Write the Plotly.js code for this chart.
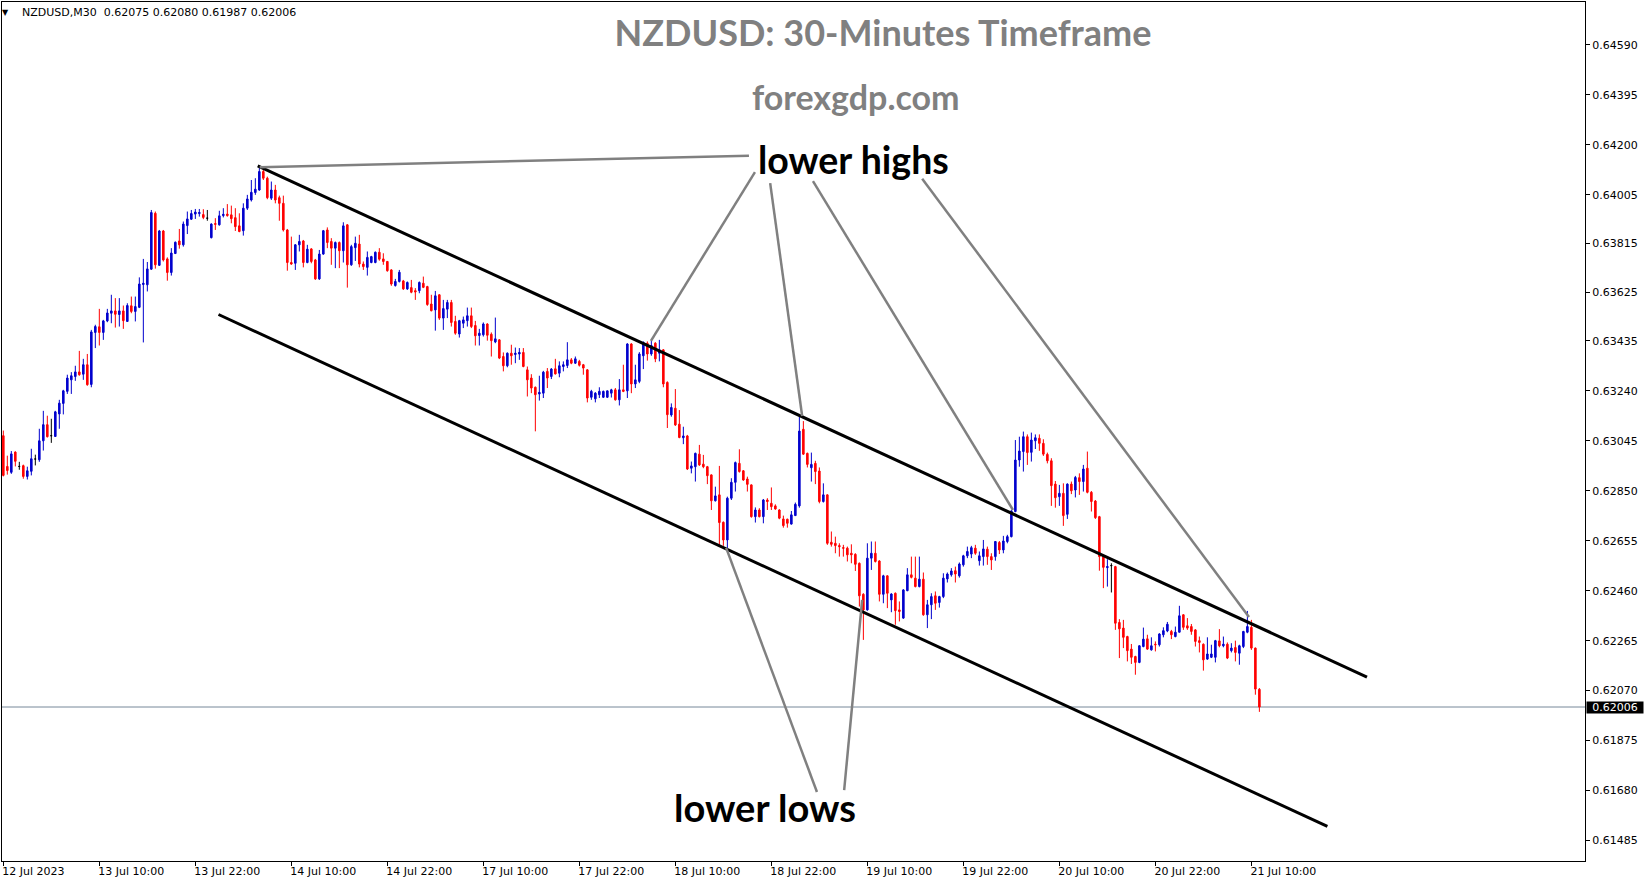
<!DOCTYPE html>
<html>
<head>
<meta charset="utf-8">
<script src="https://cdn.plot.ly/plotly-3.0.1.min.js"></script>
<style>
html,body{margin:0;padding:0;background:#fff;overflow:hidden}
#chart{width:1649px;height:884px}
</style>
</head>
<body>
<div id="chart"></div>
<script>
// NZDUSD M30 bars (index 0 = first visible bar)
const openP = [
.63065,.62945,.62922,.63001,.62945,.62948,.62906,.62926,.62974,.62971,
.63045,.63108,.63065,.63062,.63150,.63191,.63238,.63283,.63296,.63314,
.63305,.63342,.63265,.63468,.63490,.63468,.63513,.63543,.63552,.63538,
.63552,.63511,.63572,.63550,.63566,.63655,.63654,.63715,.63933,.63730,
.63864,.63755,.63702,.63776,.63825,.63810,.63885,.63910,.63930,.63932,
.63928,.63914,.63838,.63893,.63888,.63924,.63930,.63927,.63916,.63884,
.63865,.63953,.63985,.64014,.64024,.64096,.64070,.63992,.64024,.63994,
.63972,.63868,.63741,.63738,.63810,.63825,.63741,.63794,.63751,.63677,
.63774,.63868,.63823,.63797,.63819,.63787,.63888,.63732,.63799,.63813,
.63735,.63722,.63741,.63741,.63781,.63755,.63745,.63712,.63651,.63667,
.63669,.63638,.63643,.63631,.63631,.63660,.63647,.63579,.63556,.63615,
.63524,.63559,.63585,.63511,.63462,.63504,.63514,.63533,.63495,.63456,
.63459,.63501,.63461,.63431,.63439,.63374,.63338,.63387,.63382,.63384,
.63390,.63322,.63290,.63254,.63228,.63231,.63316,.63296,.63326,.63309,
.63335,.63339,.63361,.63348,.63355,.63342,.63322,.63215,.63209,.63225,
.63215,.63215,.63231,.63244,.63205,.63244,.63240,.63423,.63267,.63277,
.63377,.63426,.63384,.63426,.63387,.63400,.63273,.63146,.63172,.63110,
.63057,.63064,.62938,.62944,.62993,.62954,.62944,.62912,.62811,.62834,
.62727,.62658,.62821,.62883,.62957,.62928,.62896,.62873,.62749,.62775,
.62749,.62814,.62801,.62791,.62775,.62740,.62739,.62720,.62753,.62791,
.63090,.62996,.62940,.62957,.62927,.62808,.62834,.62649,.62645,.62636,
.62628,.62626,.62606,.62602,.62567,.62446,.62385,.62587,.62606,.62576,
.62446,.62518,.62424,.62450,.62385,.62353,.62460,.62522,.62509,.62476,
.62505,.62366,.62405,.62440,.62414,.62437,.62506,.62522,.62538,.62518,
.62561,.62596,.62603,.62626,.62577,.62593,.62622,.62593,.62593,.62648,
.62619,.62652,.62671,.62769,.62970,.63003,.63061,.63000,.63045,.63055,
.63035,.62992,.62967,.62876,.62827,.62840,.62758,.62876,.62853,.62901,
.62886,.62938,.62844,.62810,.62749,.62593,.62550,.62558,.62554,.62336,
.62314,.62281,.62232,.62203,.62180,.62242,.62272,.62229,.62251,.62249,
.62288,.62303,.62301,.62281,.62298,.62366,.62323,.62320,.62307,.62265,
.62251,.62193,.62200,.62200,.62264,.62245,.62251,.62226,.62238,.62216,
.62242,.62298,.62317,.62236,.62075];
const highP = [
.63085,.62987,.63005,.63004,.62963,.62952,.62944,.63014,.62991,.63092,
.63162,.63143,.63131,.63162,.63205,.63244,.63303,.63313,.63338,.63396,
.63365,.63384,.63478,.63498,.63560,.63517,.63560,.63615,.63602,.63602,
.63573,.63582,.63608,.63608,.63683,.63755,.63743,.63946,.63940,.63868,
.63868,.63761,.63797,.63823,.63872,.63901,.63940,.63946,.63950,.63950,
.63949,.63946,.63894,.63914,.63943,.63953,.63969,.63963,.63953,.63933,
.63972,.64005,.64063,.64070,.64118,.64112,.64076,.64057,.64044,.64002,
.64002,.63872,.63842,.63813,.63849,.63829,.63810,.63797,.63755,.63790,
.63868,.63878,.63836,.63823,.63823,.63898,.63891,.63810,.63842,.63849,
.63745,.63784,.63767,.63784,.63797,.63777,.63747,.63715,.63677,.63712,
.63673,.63667,.63673,.63641,.63667,.63686,.63650,.63615,.63630,.63617,
.63595,.63595,.63595,.63533,.63517,.63530,.63565,.63565,.63513,.63482,
.63507,.63504,.63468,.63526,.63442,.63390,.63390,.63420,.63409,.63407,
.63407,.63335,.63305,.63257,.63299,.63318,.63329,.63329,.63365,.63355,
.63355,.63430,.63368,.63374,.63361,.63345,.63325,.63244,.63235,.63254,
.63241,.63241,.63248,.63251,.63286,.63342,.63426,.63426,.63342,.63391,
.63433,.63433,.63436,.63430,.63439,.63403,.63277,.63191,.63247,.63165,
.63100,.63068,.62964,.62999,.63029,.62990,.62947,.62914,.62866,.62947,
.62730,.62827,.62899,.62964,.63012,.62931,.62905,.62875,.62785,.62782,
.62818,.62821,.62863,.62797,.62778,.62753,.62741,.62771,.62804,.63139,
.63122,.62999,.62999,.62967,.62941,.62879,.62836,.62691,.62671,.62645,
.62639,.62632,.62641,.62606,.62570,.62450,.62645,.62652,.62652,.62579,
.62522,.62520,.62450,.62453,.62418,.62466,.62548,.62593,.62593,.62593,
.62531,.62424,.62450,.62457,.62440,.62528,.62531,.62548,.62554,.62570,
.62600,.62632,.62635,.62639,.62613,.62658,.62632,.62606,.62654,.62654,
.62674,.62678,.62775,.63048,.63061,.63081,.63070,.63077,.63070,.63070,
.63051,.62999,.62977,.62888,.62873,.62879,.62879,.62886,.62908,.62918,
.62951,.63003,.62849,.62814,.62752,.62596,.62583,.62567,.62557,.62349,
.62346,.62284,.62252,.62206,.62247,.62316,.62288,.62278,.62262,.62294,
.62317,.62338,.62307,.62320,.62401,.62368,.62353,.62330,.62310,.62281,
.62254,.62278,.62249,.62268,.62310,.62281,.62258,.62255,.62265,.62249,
.62303,.62381,.62346,.62238,.62080];
const lowP = [
.62906,.62913,.62916,.62945,.62932,.62897,.62894,.62910,.62949,.62963,
.63007,.63058,.63037,.63060,.63092,.63148,.63228,.63228,.63279,.63299,
.63283,.63260,.63254,.63407,.63417,.63439,.63508,.63504,.63487,.63491,
.63482,.63509,.63543,.63511,.63563,.63429,.63628,.63712,.63717,.63728,
.63745,.63670,.63690,.63774,.63795,.63803,.63852,.63907,.63911,.63920,
.63910,.63904,.63835,.63868,.63885,.63917,.63920,.63894,.63864,.63859,
.63846,.63946,.63979,.64005,.64021,.64063,.63988,.63985,.63972,.63904,
.63862,.63709,.63732,.63712,.63784,.63722,.63738,.63738,.63673,.63673,
.63771,.63797,.63732,.63719,.63719,.63741,.63643,.63728,.63747,.63722,
.63712,.63690,.63738,.63738,.63748,.63732,.63705,.63650,.63647,.63663,
.63634,.63634,.63621,.63595,.63621,.63641,.63572,.63550,.63475,.63517,
.63478,.63524,.63491,.63459,.63448,.63485,.63491,.63485,.63417,.63417,
.63452,.63436,.63374,.63426,.63364,.63316,.63332,.63342,.63348,.63361,
.63332,.63218,.63231,.63082,.63202,.63212,.63251,.63286,.63304,.63293,
.63316,.63329,.63344,.63345,.63335,.63303,.63195,.63205,.63195,.63212,
.63212,.63212,.63214,.63202,.63183,.63235,.63212,.63231,.63251,.63270,
.63325,.63358,.63377,.63352,.63355,.63254,.63095,.63139,.63103,.63055,
.63032,.62931,.62918,.62886,.62947,.62938,.62876,.62775,.62808,.62639,
.62635,.62616,.62814,.62847,.62921,.62889,.62847,.62745,.62726,.62746,
.62723,.62775,.62775,.62776,.62739,.62706,.62706,.62718,.62752,.62784,
.62990,.62941,.62886,.62876,.62801,.62804,.62639,.62632,.62606,.62593,
.62593,.62574,.62567,.62537,.62398,.62268,.62382,.62541,.62570,.62418,
.62411,.62392,.62376,.62327,.62340,.62350,.62458,.62508,.62473,.62473,
.62362,.62314,.62349,.62385,.62394,.62431,.62492,.62515,.62492,.62511,
.62554,.62587,.62587,.62600,.62558,.62558,.62561,.62541,.62577,.62603,
.62606,.62645,.62668,.62766,.62944,.62925,.62951,.62964,.63013,.63006,
.62986,.62957,.62791,.62784,.62791,.62713,.62740,.62837,.62824,.62834,
.62847,.62840,.62769,.62740,.62538,.62470,.62476,.62453,.62307,.62197,
.62236,.62184,.62174,.62132,.62177,.62239,.62229,.62226,.62223,.62242,
.62278,.62298,.62271,.62278,.62297,.62307,.62307,.62288,.62242,.62219,
.62148,.62190,.62197,.62180,.62239,.62239,.62193,.62219,.62184,.62171,
.62236,.62294,.62229,.62054,.61987];
const closeP = [
.62910,.62929,.62994,.62965,.62945,.62906,.62928,.62975,.62974,.63045,
.63108,.63061,.63065,.63158,.63192,.63240,.63290,.63299,.63314,.63303,
.63342,.63264,.63470,.63491,.63468,.63513,.63544,.63552,.63539,.63552,
.63514,.63573,.63550,.63569,.63657,.63660,.63716,.63936,.63732,.63864,
.63751,.63702,.63778,.63820,.63810,.63891,.63911,.63932,.63938,.63936,
.63917,.63914,.63891,.63890,.63923,.63929,.63924,.63912,.63881,.63862,
.63953,.63989,.64015,.64027,.64096,.64070,.63994,.64024,.63985,.63972,
.63868,.63741,.63735,.63810,.63823,.63741,.63793,.63745,.63677,.63774,
.63865,.63819,.63797,.63819,.63787,.63884,.63732,.63803,.63816,.63735,
.63725,.63761,.63764,.63781,.63754,.63745,.63709,.63657,.63667,.63703,
.63638,.63663,.63625,.63626,.63663,.63644,.63577,.63553,.63611,.63524,
.63561,.63585,.63507,.63465,.63514,.63517,.63533,.63491,.63455,.63465,
.63501,.63457,.63436,.63443,.63368,.63338,.63387,.63377,.63387,.63390,
.63335,.63283,.63251,.63225,.63234,.63313,.63290,.63325,.63306,.63338,
.63342,.63361,.63348,.63365,.63340,.63329,.63212,.63238,.63231,.63238,
.63238,.63240,.63244,.63205,.63244,.63238,.63423,.63267,.63283,.63384,
.63429,.63384,.63417,.63365,.63400,.63267,.63147,.63175,.63107,.63058,
.63064,.62935,.62947,.62996,.62951,.62944,.62909,.62811,.62830,.62726,
.62658,.62821,.62883,.62960,.62925,.62892,.62875,.62749,.62775,.62749,
.62814,.62808,.62788,.62779,.62743,.62714,.62723,.62756,.62797,.63083,
.62993,.62953,.62953,.62925,.62808,.62834,.62645,.62641,.62636,.62632,
.62626,.62600,.62600,.62563,.62440,.62385,.62587,.62606,.62574,.62446,
.62518,.62450,.62447,.62382,.62379,.62463,.62522,.62512,.62476,.62505,
.62366,.62405,.62437,.62411,.62437,.62509,.62525,.62537,.62525,.62564,
.62596,.62613,.62628,.62606,.62596,.62623,.62593,.62580,.62652,.62619,
.62654,.62671,.62771,.62970,.63005,.63061,.62999,.63048,.63057,.63035,
.62993,.62967,.62870,.62823,.62840,.62753,.62876,.62850,.62902,.62886,
.62935,.62844,.62808,.62745,.62593,.62551,.62554,.62558,.62333,.62311,
.62278,.62226,.62200,.62180,.62245,.62271,.62232,.62245,.62249,.62291,
.62304,.62329,.62288,.62298,.62362,.62317,.62314,.62301,.62262,.62258,
.62190,.62213,.62213,.62265,.62245,.62251,.62197,.62236,.62219,.62245,
.62301,.62320,.62236,.62076,.62006];

// Time-axis labels and the bar they sit on
const tickBars = [0,24,48,72,96,120,144,168,192,216,240,264,288,312];
const tickLabels = ['12 Jul 2023','13 Jul 10:00','13 Jul 22:00','14 Jul 10:00','14 Jul 22:00',
  '17 Jul 10:00','17 Jul 22:00','18 Jul 10:00','18 Jul 22:00','19 Jul 10:00','19 Jul 22:00',
  '20 Jul 10:00','20 Jul 22:00','21 Jul 10:00'];
// Price-axis labels
const priceTicks = [0.64590,0.64395,0.64200,0.64005,0.63815,0.63625,0.63435,0.63240,0.63045,
  0.62850,0.62655,0.62460,0.62265,0.62070,0.61875,0.61680,0.61485];

// Drawn objects: [bar index, price] end points
const upperChannel = {bar:[63.6,340.9], price:[0.64118,0.62123]};
const lowerChannel = {bar:[53.8,331.0], price:[0.63538,0.61540]};
const highPointers = [
  {bar:[64.1,186.4], price:[0.64113,0.64158]},
  {bar:[187.9,161.9], price:[0.64094,0.63435]},
  {bar:[191.7,199.7], price:[0.64051,0.63142]},
  {bar:[202.4,252.4], price:[0.64059,0.62775]},
  {bar:[229.7,311.4], price:[0.64068,0.62357]}
];
const lowPointers = [
  {bar:[180.7,203.4], price:[0.62627,0.61674]},
  {bar:[214.7,210.2], price:[0.62424,0.61682]}
];

const n = closeP.length;
const idx = closeP.map((_, i) => i);
const dojiIdx = idx.filter(i => openP[i] === closeP[i]);
const bodyIdx = idx.filter(i => openP[i] !== closeP[i]);
const pick = (arr, list) => list.map(i => arr[i]);

const BLUE = '#0000CD', RED = '#FF0000';
const traces = [
  {
    type:'candlestick', x: bodyIdx,
    open: pick(openP, bodyIdx), high: pick(highP, bodyIdx),
    low: pick(lowP, bodyIdx), close: pick(closeP, bodyIdx),
    increasing:{line:{color:BLUE,width:1}, fillcolor:BLUE},
    decreasing:{line:{color:RED,width:1}, fillcolor:RED},
    whiskerwidth:0, hoverinfo:'skip', showlegend:false
  },
  {
    type:'candlestick', x: dojiIdx,
    open: pick(openP, dojiIdx), high: pick(highP, dojiIdx),
    low: pick(lowP, dojiIdx), close: pick(closeP, dojiIdx),
    increasing:{line:{color:'#000',width:1}, fillcolor:'#000'},
    decreasing:{line:{color:'#000',width:1}, fillcolor:'#000'},
    whiskerwidth:0, hoverinfo:'skip', showlegend:false
  }
];

const lineShape = (o, color, width) => ({
  type:'line', xref:'x', yref:'y', layer:'above',
  x0:o.bar[0], x1:o.bar[1], y0:o.price[0], y1:o.price[1],
  line:{color:color, width:width}
});
const lastClose = closeP[n-1];
const shapes = [
  {type:'line', xref:'paper', yref:'y', x0:0, x1:1, y0:lastClose, y1:lastClose,
   line:{color:'#778899', width:1}, layer:'below'},
  lineShape(upperChannel, '#000', 3),
  lineShape(lowerChannel, '#000', 3)
].concat(highPointers.map(o => lineShape(o, '#808080', 2.5)))
 .concat(lowPointers.map(o => lineShape(o, '#808080', 2.5)));

const f5 = v => v.toFixed(5);
const axFont = {family:'DejaVu Sans, Verdana, sans-serif', size:11, color:'#000'};
const annotations = [
  {xref:'paper', yref:'paper', x:0.0019, y:0.9877, xanchor:'center', yanchor:'middle',
   text:'▼', showarrow:false, font:{family:'DejaVu Sans', size:8, color:'#000'}},
  {xref:'paper', yref:'paper', x:0.0115, y:0.9872, xanchor:'left', yanchor:'middle',
   text:'NZDUSD,M30&nbsp;&nbsp;' + [openP[n-1],highP[n-1],lowP[n-1],closeP[n-1]].map(f5).join(' '),
   showarrow:false, font:axFont},
  {xref:'paper', yref:'paper', x:0.5395, y:0.8905, xanchor:'center', yanchor:'middle',
   text:'forexgdp.com', showarrow:false,
   font:{family:'Lato, sans-serif', size:34, color:'#808080', weight:700}},
  {xref:'paper', yref:'paper', x:0.5376, y:0.8172, xanchor:'center', yanchor:'middle',
   text:'lower highs', showarrow:false,
   font:{family:'Lato, sans-serif', size:37.5, color:'#000', weight:700}},
  {xref:'paper', yref:'paper', x:0.4820, y:0.063, xanchor:'center', yanchor:'middle',
   text:'lower lows', showarrow:false,
   font:{family:'Lato, sans-serif', size:38, color:'#000', weight:700}},
  {xref:'paper', yref:'y', x:1, y:lastClose, xanchor:'left', yanchor:'middle', xshift:1,
   text:f5(lastClose), showarrow:false, bgcolor:'#000', borderpad:0,
   width:56, height:11, align:'center',
   font:{family:'DejaVu Sans, Verdana, sans-serif', size:11, color:'#fff'}}
];

const layout = {
  width:1649, height:884,
  margin:{l:2, r:64, t:2, b:23, pad:0},
  paper_bgcolor:'#fff', plot_bgcolor:'#fff',
  showlegend:false, hovermode:false, dragmode:false,
  boxgap:0.45,
  title:{text:'NZDUSD: 30-Minutes Timeframe', xref:'container', yref:'container',
    x:883/1649, xanchor:'center', y:1-33/884, yanchor:'middle',
    font:{family:'Lato, sans-serif', size:36, color:'#808080', weight:700}},
  xaxis:{
    range:[-0.33, 395.4], tickmode:'array', tickvals:tickBars, ticktext:tickLabels,
    ticks:'outside', ticklen:4, tickwidth:1, tickcolor:'#000',
    ticklabelposition:'outside right', ticklabelshift:-2,
    showline:true, linecolor:'#000', linewidth:1, mirror:true,
    showgrid:false, zeroline:false, fixedrange:true,
    rangeslider:{visible:false}, tickfont:axFont
  },
  yaxis:{
    side:'right', range:[0.614049, 0.647578], tickmode:'array',
    tickvals:priceTicks, ticktext:priceTicks.map(f5),
    ticks:'outside', ticklen:4, tickwidth:1, tickcolor:'#000',
    showline:true, linecolor:'#000', linewidth:1, mirror:true,
    showgrid:false, zeroline:false, fixedrange:true, tickfont:axFont
  },
  shapes:shapes,
  annotations:annotations
};

Plotly.newPlot('chart', traces, layout, {staticPlot:true, displayModeBar:false});
</script>
</body>
</html>
